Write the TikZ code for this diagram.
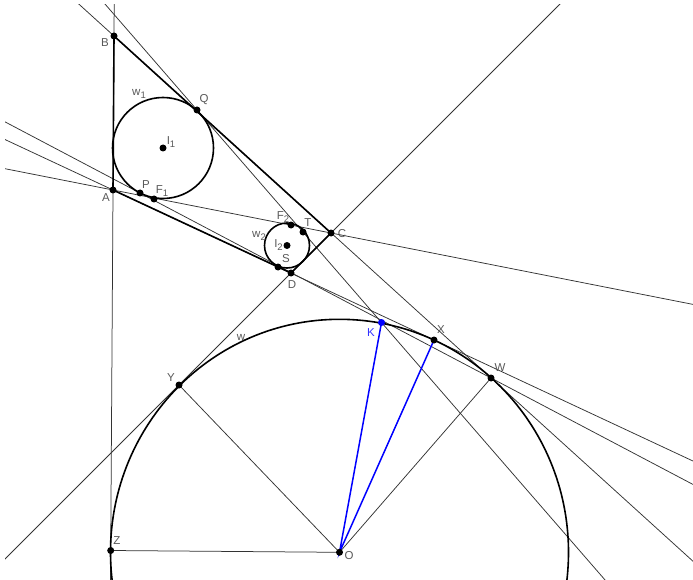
\documentclass[tikz,border=0pt]{standalone}
\usepackage{fontspec}
\setmainfont{Liberation Sans}
\newcommand\indice[1]{\raisebox{-0.45ex}{\fontsize{9.5}{10}\selectfont#1}}
\begin{document}
\begin{tikzpicture}[x=1pt,y=-1pt,
    fin/.style={black!80,line width=0.75pt},
    long/.style={fin,shorten <=-900pt,shorten >=-900pt},
    gras/.style={black,line width=1.6pt},
    bleu/.style={blue,line width=1.5pt},
    etiq/.style={black!65,font=\fontsize{11.5}{13}\selectfont,inner sep=0pt}]
  \useasboundingbox (0,0) rectangle (693,580);
  \clip (5,5) rectangle (693,580);
  % les points (coordonnees de l'ecran)
  \coordinate (B) at (114,36);   \coordinate (Q) at (197,110);
  \coordinate (I1) at (163,148); \coordinate (A) at (113,190);
  \coordinate (P) at (140,193);  \coordinate (F1) at (154,199);
  \coordinate (F2) at (291,225); \coordinate (T) at (303,232);
  \coordinate (C) at (331,233);  \coordinate (I2) at (287,245.5);
  \coordinate (S) at (278,267);  \coordinate (D) at (291,273);
  \coordinate (K) at (381.5,322.5); \coordinate (X) at (434,340);
  \coordinate (W) at (491,378);  \coordinate (Y) at (179,385);
  \coordinate (Z) at (110.7,550.5); \coordinate (O) at (339.5,552.3);
  % droites prolongees
  \draw[long] (B) -- (Z);
  \draw[long] (B) -- (W);
  \draw[long] (C) -- (Y);
  \draw[long] (A) -- (X);
  \draw[long] (A) -- (C);
  \draw[long] (P) -- (W);
  \draw[long] (Q) -- (K);
  \draw[fin] (Z) -- (O) -- (Y) (O) -- (W);
  % le quadrilatere
  \draw[gras] (B) -- (A) -- (D) -- (C) -- cycle;
  \draw[bleu] (K) -- (O) -- (X);
  % les cercles
  \draw[gras] (I1) circle [radius=50.5pt];
  \draw[gras] (I2) circle [radius=22.5pt];
  \draw[gras] (O) ellipse [x radius=229pt,y radius=233pt];
  \foreach \p in {B,Q,I1,A,P,F1,F2,T,C,I2,S,D,X,W,Y,Z,O}
    \fill (\p) circle [radius=3.5pt];
  \fill[blue] (K) circle [radius=3.5pt];
  % etiquettes
  \node[etiq] (lB) at (105,43) {B};
  \node[etiq] (lQ) at (204,100) {Q};
  \node[etiq] (lw1) at (139,94) {w\indice{1}};
  \node[etiq] (lI1) at (171,142) {I\indice{1}};
  \node[etiq] (lA) at (106,198) {A};
  \node[etiq] (lP) at (146,185) {P};
  \node[etiq] (lF1) at (162,191) {F\indice{1}};
  \node[etiq] (lF2) at (283,217) {F\indice{2}};
  \node[etiq] (lT) at (308,223) {T};
  \node[etiq] (lC) at (342,234) {C};
  \node[etiq] (lw2) at (259,236) {w\indice{2}};
  \node[etiq] (lI2) at (278.5,245) {I\indice{2}};
  \node[etiq] (lS) at (286,259) {S};
  \node[etiq] (lD) at (292,285) {D};
  \node[etiq,blue!80] (lK) at (371,333) {K};
  \node[etiq] (lX) at (441,330) {X};
  \node[etiq] (lW) at (500,368) {W};
  \node[etiq] (lw) at (241,337) {w};
  \node[etiq] (lY) at (171,378) {Y};
  \node[etiq] (lZ) at (117,541) {Z};
  \node[etiq] (lO) at (349,556) {O};
\end{tikzpicture}
\end{document}
